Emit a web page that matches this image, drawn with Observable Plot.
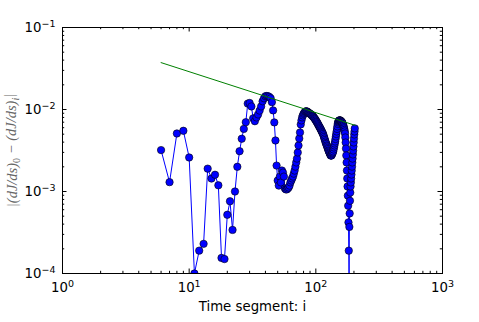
<!DOCTYPE html>
<html><head><meta charset="utf-8">
<script src="https://cdn.jsdelivr.net/npm/d3@7"></script>
<script src="https://cdn.jsdelivr.net/npm/@observablehq/plot@0.6"></script>
<style>html,body{margin:0;padding:0;background:#fff} svg{display:block}</style>
</head><body><div id="chart"></div>
<script>
// Time segments i = 6 .. 203 (one value per segment)
const firstSegment = 6;
const errValues = [
  0.0032, 0.0013, 0.0051, 0.0055, 0.0026, 0.0001, 0.00019, 0.00023, 0.0019, 0.00144,
  0.0016, 0.00119, 0.000155, 0.00015, 0.00052, 0.00076, 0.00034, 0.001, 0.002, 0.0031,
  0.0044, 0.0058, 0.007, 0.0118, 0.012, 0.0109, 0.0078, 0.0072, 0.008, 0.0087,
  0.0097, 0.0109, 0.0126, 0.0137, 0.0145, 0.0146, 0.0145, 0.0142, 0.0137, 0.0123,
  0.00975, 0.00696, 0.00419, 0.00207, 0.00136, 0.00118, 0.00152, 0.00129, 0.0018, 0.0017,
  0.00152, 0.00109, 0.00106, 0.00106, 0.00109, 0.00112, 0.00118, 0.00129, 0.00136, 0.00144,
  0.00152, 0.00165, 0.0018, 0.00201, 0.00226, 0.00252, 0.00299, 0.00364, 0.00443, 0.00525,
  0.00658, 0.00736, 0.00801, 0.00847, 0.00884, 0.0091, 0.00935, 0.00948, 0.00948, 0.00948,
  0.00935, 0.00922, 0.0091, 0.00896, 0.0089, 0.00876, 0.00866, 0.00847, 0.00836, 0.00824,
  0.00808, 0.0079, 0.00773, 0.00757, 0.00736, 0.00716, 0.00702, 0.00682, 0.00663, 0.00645,
  0.00627, 0.0061, 0.00596, 0.0058, 0.00563, 0.00547, 0.00532, 0.00517, 0.00503, 0.00483,
  0.00463, 0.00443, 0.00425, 0.00407, 0.0039, 0.0038, 0.00364, 0.00354, 0.00339, 0.00329,
  0.00316, 0.00308, 0.00299, 0.00291, 0.00283, 0.00275, 0.00275, 0.00275, 0.00283, 0.00291,
  0.00299, 0.00308, 0.00325, 0.00344, 0.00364, 0.00385, 0.00407, 0.00437, 0.00469, 0.00503,
  0.0054, 0.0058, 0.00622, 0.00667, 0.00696, 0.00716, 0.00726, 0.00736, 0.00736, 0.00736,
  0.00736, 0.00726, 0.00716, 0.00716, 0.00706, 0.00696, 0.00686, 0.00667, 0.00649, 0.00631,
  0.0061, 0.00588, 0.00563, 0.0054, 0.0051, 0.00456, 0.00396, 0.00334, 0.00275, 0.00226,
  0.0018, 0.00144, 0.00115, 0.00089, 0.00067, 0.00042, 0.00019, 0.00005, 0.00037, 0.00054,
  0.00077, 0.00097, 0.00115, 0.00129, 0.00144, 0.00161, 0.0018, 0.00201, 0.00226, 0.00252,
  0.00283, 0.00316, 0.00354, 0.00396, 0.00443, 0.00496, 0.0054, 0.00588
];
const segments = errValues.map((_, k) => firstSegment + k);

// Fitted reference line (green)
const fitSegments = [6, 205];
const fitValues = [0.0373, 0.0064];

// Ticks
const xMajor = [1, 10, 100, 1000];
const xMinor = [2,3,4,5,6,7,8,9,20,30,40,50,60,70,80,90,200,300,400,500,600,700,800,900];
const yMajor = [1e-4, 1e-3, 1e-2, 1e-1];
const yMinor = [2e-4,3e-4,4e-4,5e-4,6e-4,7e-4,8e-4,9e-4,2e-3,3e-3,4e-3,5e-3,6e-3,7e-3,8e-3,9e-3,2e-2,3e-2,4e-2,5e-2,6e-2,7e-2,8e-2,9e-2];
const xTickLabels = ["10^0", "10^1", "10^2", "10^3"];
const yTickLabels = ["10^-4", "10^-3", "10^-2", "10^-1"];
const xTitle = "Time segment: i";
const yTitle = "|(dJ/ds)_0 − (dJ/ds)_i|";

const W = 479, H = 322, mT = 27, mB = 49, mL = 62, mR = 37;
const fh = H - mT - mB, fw = W - mL - mR;
const maj = 4.5, mnr = 2.2;

const data = segments.map((s, k) => ({s, v: errValues[k]}));
const fit = fitSegments.map((s, k) => ({s, v: fitValues[k]}));

const chart = Plot.plot({
  width: W, height: H,
  marginTop: mT, marginBottom: mB, marginLeft: mL, marginRight: mR,
  style: {fontFamily: "DejaVu Sans", fontSize: "13.3px", background: "white", color: "black", overflow: "visible"},
  x: {type: "log", domain: [1, 1000], axis: null},
  y: {type: "log", domain: [1e-4, 1e-1], axis: null},
  marks: [
    Plot.line(data, {x: "s", y: "v", stroke: "#0000ff", strokeWidth: 1, clip: true}),
    Plot.dot(data, {x: "s", y: "v", r: 3.7, fill: "#0000ff", stroke: "black", strokeWidth: 0.6, clip: true}),
    Plot.line(fit, {x: "s", y: "v", stroke: "#008000", strokeWidth: 1}),
    // inward ticks on all sides
    Plot.ruleX(xMajor, {insetTop: fh - maj, stroke: "black"}),
    Plot.ruleX(xMajor, {insetBottom: fh - maj, stroke: "black"}),
    Plot.ruleX(xMinor, {insetTop: fh - mnr, stroke: "black"}),
    Plot.ruleX(xMinor, {insetBottom: fh - mnr, stroke: "black"}),
    Plot.ruleY(yMajor, {insetRight: fw - maj, stroke: "black"}),
    Plot.ruleY(yMajor, {insetLeft: fw - maj, stroke: "black"}),
    Plot.ruleY(yMinor, {insetRight: fw - mnr, stroke: "black"}),
    Plot.ruleY(yMinor, {insetLeft: fw - mnr, stroke: "black"}),
    Plot.frame({stroke: "black", strokeWidth: 1}),
    Plot.text(xMajor, {x: d => d, text: (d, i) => xTickLabels[i], frameAnchor: "bottom", lineAnchor: "top", textAnchor: "middle", dy: 9, fill: "black"}),
    Plot.text(yMajor, {y: d => d, text: (d, i) => yTickLabels[i], frameAnchor: "left", lineAnchor: "middle", textAnchor: "end", dx: -7, fill: "black"}),
    Plot.text([xTitle], {text: d => d, frameAnchor: "bottom", lineAnchor: "top", textAnchor: "middle", dy: 28.5, fill: "black"}),
    Plot.text([yTitle], {text: d => d, frameAnchor: "left", rotate: -90, textAnchor: "middle", lineAnchor: "middle", dx: -50, fill: "#666", fontFamily: "Liberation Serif", fontStyle: "italic", fontSize: 14.5})
  ]
});
document.getElementById("chart").appendChild(chart);

// typeset superscripts / subscripts as real text
d3.select(chart).selectAll("text").each(function() {
  const t = d3.select(this);
  const s = this.textContent;
  let m = /^10\^(-?\d)$/.exec(s);
  if (m) {
    t.text("");
    t.append("tspan").text("10");
    t.append("tspan").attr("dy", "-0.5em").attr("font-size", "9.5px").text(m[1].replace("-", "−"));
    return;
  }
  if (s === yTitle) {
    t.text("");
    t.append("tspan").text("|(dJ/ds)");
    t.append("tspan").attr("dy", "0.3em").attr("font-size", "10px").attr("font-style", "normal").text("0");
    t.append("tspan").attr("dy", "-0.3em").text(" − (dJ/ds)");
    t.append("tspan").attr("dy", "0.3em").attr("font-size", "10px").text("i");
    t.append("tspan").attr("dy", "-0.3em").text("|");
  }
});
</script>
</body></html>
